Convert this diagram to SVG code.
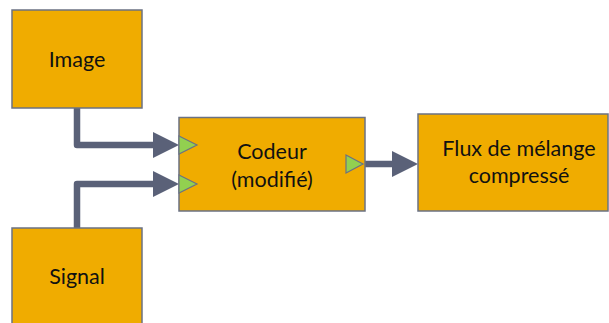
<svg xmlns="http://www.w3.org/2000/svg" width="609" height="323" viewBox="0 0 609 323">
<style>
.box{fill:#F0AC00;stroke:#6B7283;stroke-width:1.5}
.t{font-family:Lato,"Liberation Sans",Arial,sans-serif;font-size:21.5px;fill:#111;text-anchor:middle}
.ln{fill:none;stroke:#5A6178;stroke-width:6.5;stroke-linejoin:round}
.hd{fill:#5A6178}
.port{fill:#92D050;stroke:#6B7283;stroke-width:1.2}
</style>
<rect width="609" height="323" fill="#fff"/>
<g id="connectors">
<path class="ln" d="M77,108 V145 H156"/>
<polygon class="hd" points="153,132 179,145 153,158"/>
<path class="ln" d="M77,228 V184 H156"/>
<polygon class="hd" points="153,171 179,184 153,197"/>
<path class="ln" d="M362,164 H395"/>
<polygon class="hd" points="392,151 418,164 392,177"/>
</g>
<g id="image">
<rect class="box" x="12" y="10" width="130" height="98"/>
<text class="t" x="77" y="67">Image</text>
</g>
<g id="signal">
<rect class="box" x="12" y="228" width="130" height="110"/>
<text class="t" x="77" y="284">Signal</text>
</g>
<g id="codeur">
<rect class="box" x="179" y="117.5" width="186" height="93.5"/>
<text class="t" x="272" y="159">Codeur</text>
<text class="t" x="272" y="187">(modifié)</text>
<polygon class="port" points="179,136 197,145 179,154"/>
<polygon class="port" points="179,175 197,184 179,193"/>
<polygon class="port" points="346,155 363,164 346,173"/>
</g>
<g id="flux">
<rect class="box" x="418" y="114" width="190" height="97"/>
<text class="t" x="519" y="156">Flux de mélange</text>
<text class="t" x="519" y="183">compressé</text>
</g>
</svg>
